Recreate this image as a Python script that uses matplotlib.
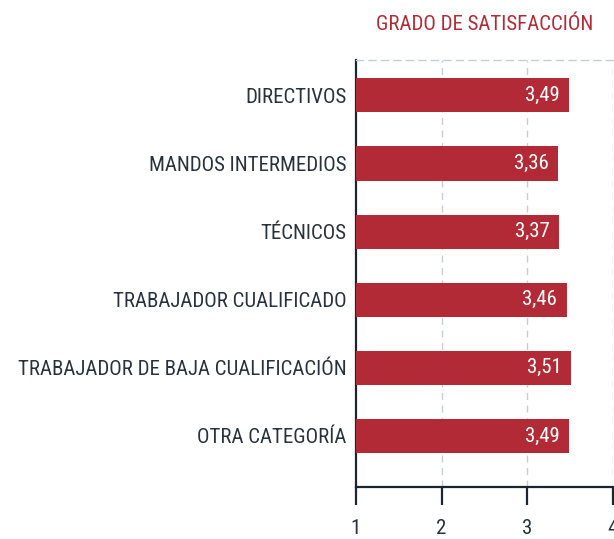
import matplotlib
matplotlib.use("Agg")
import matplotlib.pyplot as plt
from matplotlib import font_manager

categorias = [
    "DIRECTIVOS",
    "MANDOS INTERMEDIOS",
    "TÉCNICOS",
    "TRABAJADOR CUALIFICADO",
    "TRABAJADOR DE BAJA CUALIFICACIÓN",
    "OTRA CATEGORÍA",
]
valores = [3.49, 3.36, 3.37, 3.46, 3.51, 3.49]
ticks_x = [1, 2, 3, 4]
titulo = "GRADO DE SATISFACCIÓN"

ROJO = "#b22a35"
TEXTO = "#27323d"
REJILLA = "#c5ced6"

# pick a narrow font if one is installed
nombres = {f.name for f in font_manager.fontManager.ttflist}
fuente = "DejaVu Sans"
for cand in ["Roboto Condensed", "Liberation Sans Narrow", "Open Sans Condensed",
             "DejaVu Sans Condensed", "Noto Sans Condensed", "Roboto", "Liberation Sans"]:
    if cand in nombres:
        fuente = cand
        break
plt.rcParams["font.family"] = [fuente, "DejaVu Sans"]
tam = 15 if "Narrow" in fuente or "Condensed" in fuente else 12.5

fig = plt.figure(figsize=(6.14, 5.39), dpi=100)
ax = fig.add_axes([0.5798, 0.0965, 0.4185, 0.7922])

y = list(range(len(categorias)))
ax.barh(y, [v - 1 for v in valores], left=1, height=0.5, color=ROJO, zorder=3)

for yi, v in zip(y, valores):
    ax.text(v - 0.11, yi, f"{v:.2f}".replace(".", ","), color="white",
            ha="right", va="center", fontsize=tam, zorder=4)

ax.set_xlim(1, 4)
ax.set_ylim(5.75, -0.52)
ax.set_xticks(ticks_x)
ax.set_xticklabels([str(t) for t in ticks_x], fontsize=tam, color=TEXTO)
ax.set_yticks(y)
ax.set_yticklabels(categorias, fontsize=tam, color=TEXTO)
ax.tick_params(axis="y", length=0, pad=7)
ax.tick_params(axis="x", length=13, width=1.6, color="#1a2530", pad=10, direction="out")

for x in ticks_x[1:]:
    ax.axvline(x, color=REJILLA, linestyle=(0, (5, 4)), linewidth=1, zorder=1)

ax.spines["top"].set_color(REJILLA)
ax.spines["top"].set_linestyle((0, (5, 4)))
ax.spines["top"].set_linewidth(1)
ax.spines["right"].set_visible(False)
ax.spines["left"].set_color("#1a2530")
ax.spines["left"].set_linewidth(1.6)
ax.spines["bottom"].set_color("#1a2530")
ax.spines["bottom"].set_linewidth(1.6)

fig.text(0.79, 0.955, titulo, color=ROJO, ha="center", va="center", fontsize=tam)

fig.savefig("out.png", dpi=100)
